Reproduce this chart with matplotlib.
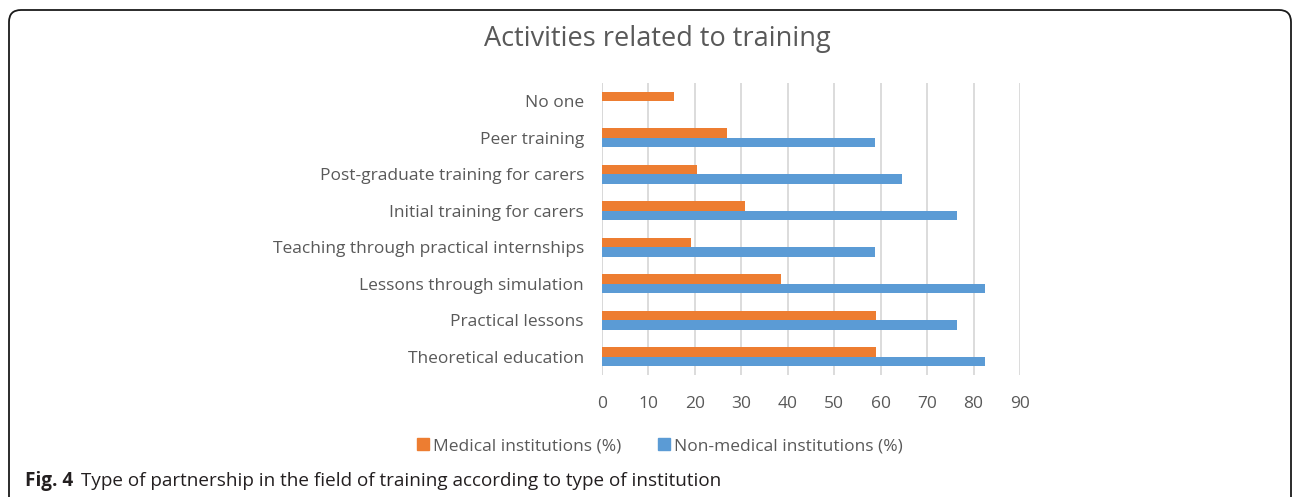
import numpy as np
import matplotlib.pyplot as plt
from matplotlib.patches import FancyBboxPatch, Patch

plt.rcParams['font.family'] = ['Open Sans', 'DejaVu Sans']

categories = ['No one', 'Peer training', 'Post-graduate training for carers',
              'Initial training for carers', 'Teaching through practical internships',
              'Lessons through simulation', 'Practical lessons', 'Theoretical education']
medical = [15.4, 26.9, 20.5, 30.8, 19.2, 38.5, 59.0, 59.0]
non_medical = [0, 58.8, 64.7, 76.5, 58.8, 82.4, 76.5, 82.4]
ticks = np.arange(0, 100, 10)

orange = '#ED7D31'
blue = '#5B9BD5'
txt = '#595959'

fig = plt.figure(figsize=(12.92, 4.97), dpi=100)
ax = fig.add_axes([602/1292, 1 - 375/497, (1020 - 602)/1292, (375 - 83)/497])

y = np.arange(len(categories))
h = 0.26
ax.barh(y - h/2, medical, height=h, color=orange, zorder=3)
ax.barh(y + h/2, non_medical, height=h, color=blue, zorder=3)

ax.set_xlim(0, 90)
ax.set_ylim(len(categories) - 0.5, -0.5)
ax.set_xticks(ticks)
ax.set_yticks(y)
ax.set_yticklabels(categories)
ax.xaxis.grid(True, color='#D9D9D9', linewidth=1.3, zorder=0)
for s in ax.spines.values():
    s.set_visible(False)
ax.axvline(0, color='#D9D9D9', linewidth=1.3, zorder=1)
ax.tick_params(axis='both', length=0, labelsize=12.5, labelcolor=txt)
ax.tick_params(axis='y', pad=13)
ax.tick_params(axis='x', pad=15)

fig.text(657/1292, 1 - 39/497, 'Activities related to training', ha='center', va='center',
         fontsize=19.5, color=txt)

handles = [Patch(color=orange, label='Medical institutions (%)'),
           Patch(color=blue, label='Non-medical institutions (%)')]
fig.legend(handles=handles, loc='center', bbox_to_anchor=(660/1292, 1 - 446/497), ncol=2,
           frameon=False, fontsize=12.5, labelcolor=txt, handlelength=0.7, handleheight=0.7,
           handletextpad=0.25, columnspacing=2.1)

# caption under the chart
fig.text(25/1292, 1 - 481/497, 'Fig. 4', ha='left', va='center', fontsize=13.6,
         fontweight='bold', color='#231F20')
fig.text(81/1292, 1 - 481/497, 'Type of partnership in the field of training according to type of institution',
         ha='left', va='center', fontsize=13.6, color='#231F20')

frame = FancyBboxPatch((0.09, -0.3), 12.82, 4.97 - 0.10 + 0.3,
                       boxstyle='round,pad=0,rounding_size=0.12',
                       transform=fig.dpi_scale_trans, fill=False, edgecolor='#1a1a1a',
                       linewidth=1.3)
fig.patches.append(frame)

fig.savefig('out.png', dpi=100)
